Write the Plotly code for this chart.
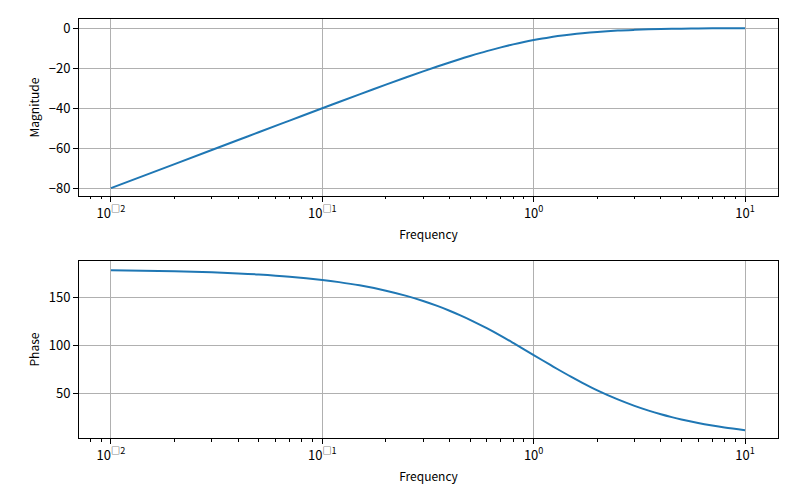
import plotly.graph_objects as go
from plotly.subplots import make_subplots

# Frequencies (rad/s) read along the log axis
freq = [0.01, 0.02, 0.03, 0.04, 0.05, 0.07, 0.1, 0.12, 0.15, 0.2, 0.25, 0.3, 0.35, 0.4,
        0.45, 0.5, 0.6, 0.7, 0.8, 0.9, 1.0, 1.1, 1.2, 1.3, 1.5, 1.7, 2.0, 2.5, 3.0, 3.5,
        4.0, 4.5, 5.0, 6.0, 7.0, 8.0, 10.0]
# Magnitude (dB)
magnitude = [-80.0, -67.96, -60.93, -55.93, -52.06, -46.24, -40.09, -36.96, -33.15,
             -28.30, -24.61, -21.66, -19.24, -17.21, -15.47, -13.98, -11.54, -9.66,
             -8.17, -6.98, -6.02, -5.23, -4.58, -4.04, -3.20, -2.58, -1.94, -1.29,
             -0.92, -0.68, -0.53, -0.42, -0.34, -0.23, -0.18, -0.13, -0.09]
# Phase (deg)
phase = [178.85, 177.71, 176.56, 175.42, 174.28, 171.99, 168.58, 166.31, 162.94,
         157.38, 151.93, 146.60, 141.42, 136.40, 131.54, 126.87, 118.07, 110.02,
         102.68, 96.02, 90.0, 84.55, 79.61, 75.14, 67.38, 60.94, 53.13, 43.60,
         36.87, 31.89, 28.07, 25.06, 22.62, 18.92, 16.26, 14.25, 11.42]

x_tickvals = [0.01, 0.1, 1, 10]
x_ticktext = ["10<sup>\u25a12</sup>", "10<sup>\u25a11</sup>", "10<sup>0</sup>", "10<sup>1</sup>"]

mag_ticks = [0, -20, -40, -60, -80]
phase_ticks = [50, 100, 150]

line_color = "#1f77b4"
font_family = "Noto Sans CJK SC, Liberation Sans, sans-serif"

fig = make_subplots(rows=2, cols=1, vertical_spacing=0.1551)
fig.add_trace(go.Scatter(x=freq, y=magnitude, mode="lines", line=dict(color=line_color, width=2, shape="spline", smoothing=1)), row=1, col=1)
fig.add_trace(go.Scatter(x=freq, y=phase, mode="lines", line=dict(color=line_color, width=2, shape="spline", smoothing=1)), row=2, col=1)

common_axis = dict(showline=True, linecolor="black", linewidth=1, mirror=True,
                   gridcolor="#b0b0b0", gridwidth=1, zeroline=False, automargin=False,
                   ticks="outside", ticklen=5, tickwidth=1, tickcolor="black",
                   tickfont=dict(size=13, color="black"))

for r in (1, 2):
    fig.update_xaxes(type="log", range=[-2.151, 1.156], tickmode="array",
                     tickvals=x_tickvals, ticktext=x_ticktext, domain=[0, 1],
                     minor=dict(dtick="D1", ticks="outside", ticklen=2.5, tickcolor="black", showgrid=False),
                     title=dict(text="Frequency", font=dict(size=12, color="black"), standoff=10),
                     row=r, col=1, **common_axis)

fig.update_yaxes(range=[-83.9, 4.5], tickmode="array", tickvals=mag_ticks, domain=[0.5776, 1.0],
                 title=dict(text="Magnitude", font=dict(size=12, color="black"), standoff=6),
                 row=1, col=1, **common_axis)
fig.update_yaxes(range=[3.2, 188.4], tickmode="array", tickvals=phase_ticks, domain=[0.0, 0.4224],
                 title=dict(text="Phase", font=dict(size=12, color="black"), standoff=6),
                 row=2, col=1, **common_axis)

fig.update_layout(width=800, height=500, showlegend=False,
                  margin=dict(l=71, r=30, t=11, b=70, autoexpand=False),
                  plot_bgcolor="white", paper_bgcolor="white",
                  font=dict(family=font_family, color="black"))

fig.write_html("out.html")
